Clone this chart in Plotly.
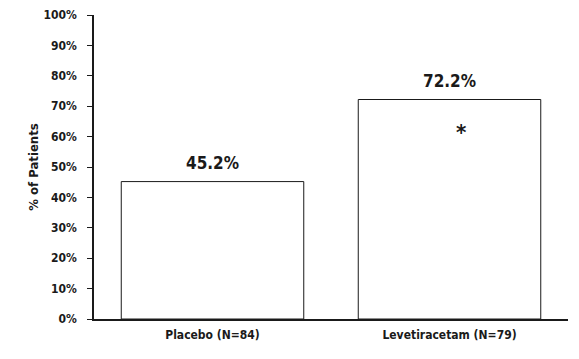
import plotly.graph_objects as go

categories = ["Placebo (N=84)", "Levetiracetam (N=79)"]
values = [45.2, 72.2]
value_labels = ["45.2%", "72.2%"]
yticks = list(range(0, 101, 10))
ytick_labels = [f"{v}%" for v in yticks]

FONT = "Liberation Sans Narrow, DejaVu Sans Condensed, Arial Narrow, sans-serif"
INK = "#1a1a1a"

fig = go.Figure()
fig.add_trace(go.Bar(
    x=categories, y=values,
    marker=dict(color="white", line=dict(color=INK, width=1)),
    width=0.77,
))

for c, v, t in zip(categories, values, value_labels):
    fig.add_annotation(x=c, y=v, xref="x", yref="y", text=f"<b>{t}</b>",
                       showarrow=False, yanchor="bottom", yshift=7,
                       font=dict(family=FONT, size=17, color=INK))

fig.add_annotation(x=categories[1], y=61.5, xref="x", yref="y", text="<b>*</b>",
                   showarrow=False, xshift=11,
                   font=dict(family=FONT, size=22, color=INK))

# The page body has an 8px margin, so the figure is sized and offset to compensate.
fig.update_layout(
    width=571, height=351,
    margin=dict(l=86, r=11, t=7, b=40, autoexpand=False),
    paper_bgcolor="white", plot_bgcolor="white",
    showlegend=False,
    font=dict(family=FONT, color=INK),
    xaxis=dict(
        showline=True, linecolor=INK, linewidth=1.5,
        ticks="", showgrid=False, zeroline=False,
        tickfont=dict(family=FONT, size=12, color=INK),
        tickprefix="<b>", ticksuffix="</b>",
        ticklabelstandoff=4,
        range=[-0.5, 1.5],
    ),
    yaxis=dict(
        range=[0, 100], tickvals=yticks,
        ticktext=[f"<b>{t}</b>" for t in ytick_labels],
        showline=True, linecolor=INK, linewidth=1.5,
        ticks="outside", ticklen=5, tickwidth=1, tickcolor=INK,
        showgrid=False, zeroline=False,
        tickfont=dict(family=FONT, size=12, color=INK),
        ticklabelstandoff=8,
        title=dict(text="<b>% of Patients</b>", standoff=2,
                   font=dict(family=FONT, size=13, color=INK)),
    ),
)

fig.write_html("out.html")
